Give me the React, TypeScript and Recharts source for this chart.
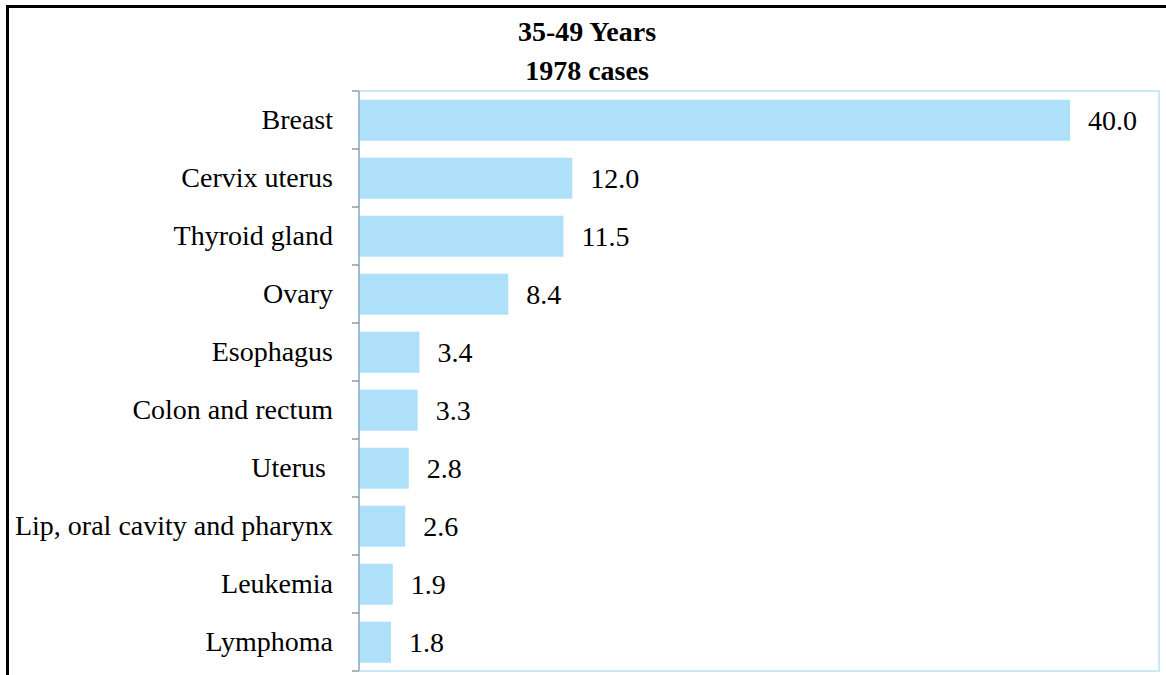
import React from 'react';
import { BarChart, Bar, XAxis, YAxis, LabelList, ReferenceArea } from 'recharts';

const categories = [
  'Breast',
  'Cervix uterus',
  'Thyroid gland',
  'Ovary',
  'Esophagus',
  'Colon and rectum',
  'Uterus ',
  'Lip, oral cavity and pharynx',
  'Leukemia',
  'Lymphoma',
];
const percents = [40.0, 12.0, 11.5, 8.4, 3.4, 3.3, 2.8, 2.6, 1.9, 1.8];
const titleLines = ['35-49 Years', '1978 cases'];

const data = categories.map((name, i) => ({ name, value: percents[i] }));

const FONT = '"Liberation Serif", "Times New Roman", serif';

// category label plus Excel-style tick marks on the band edges
const CategoryTick = (props: any) => {
  const { x, y, payload, index } = props;
  const half = payload.offset || 29;
  const axisX = x + 26;
  return (
    <g>
      <line x1={axisX - 7} x2={axisX} y1={y - half} y2={y - half} stroke="#9a9a9a" strokeWidth={1.5} />
      {index === categories.length - 1 && (
        <line x1={axisX - 7} x2={axisX} y1={y + half} y2={y + half} stroke="#9a9a9a" strokeWidth={1.5} />
      )}
      <text x={x} y={y} dy={9} textAnchor="end" fontSize={28} fontFamily={FONT} fill="#000" style={{ whiteSpace: 'pre' }}>
        {payload.value}
      </text>
    </g>
  );
};

const App: React.FC = () => {
  return (
    <div style={{ position: 'absolute', left: 0, top: 0, width: 1166, height: 675, background: '#fff' }}>
      <div
        style={{
          position: 'absolute',
          left: 6,
          top: 5,
          right: 0,
          bottom: 0,
          borderLeft: '3px solid #000',
          borderTop: '3px solid #000',
        }}
      />
      <div
        style={{
          position: 'absolute',
          left: 387,
          width: 400,
          top: 12,
          textAlign: 'center',
          fontFamily: FONT,
          fontWeight: 'bold',
          fontSize: 28,
          lineHeight: '39px',
        }}
      >
        {titleLines.map((t) => (
          <div key={t}>{t}</div>
        ))}
      </div>
      <div style={{ position: 'absolute', left: 0, top: 0 }}>
        <BarChart
          width={1166}
          height={675}
          data={data}
          layout="vertical"
          margin={{ top: 91, right: 7, bottom: 4, left: 0 }}
          barCategoryGap="15%"
        >
          <XAxis type="number" domain={[0, 45]} hide />
          <YAxis
            dataKey="name"
            type="category"
            width={359}
            tickLine={false}
            tickMargin={0}
            tickSize={0}
            axisLine={{ stroke: '#8eb1c9', strokeWidth: 1.5 }}
            tick={(p: any) => <CategoryTick {...p} x={p.x - 26} />}
            interval={0}
          />
          <ReferenceArea x1={0} x2={45} fill="none" stroke="#c9e8f8" strokeWidth={2} ifOverflow="visible" />
          <Bar dataKey="value" fill="#aee0fa" isAnimationActive={false}>
            <LabelList
              dataKey="value"
              position="right"
              offset={18}
              fill="#000"
              fontSize={28}
              fontFamily={FONT}
              formatter={(v: any) => Number(v).toFixed(1)}
            />
          </Bar>
        </BarChart>
      </div>
    </div>
  );
};

export default App;
